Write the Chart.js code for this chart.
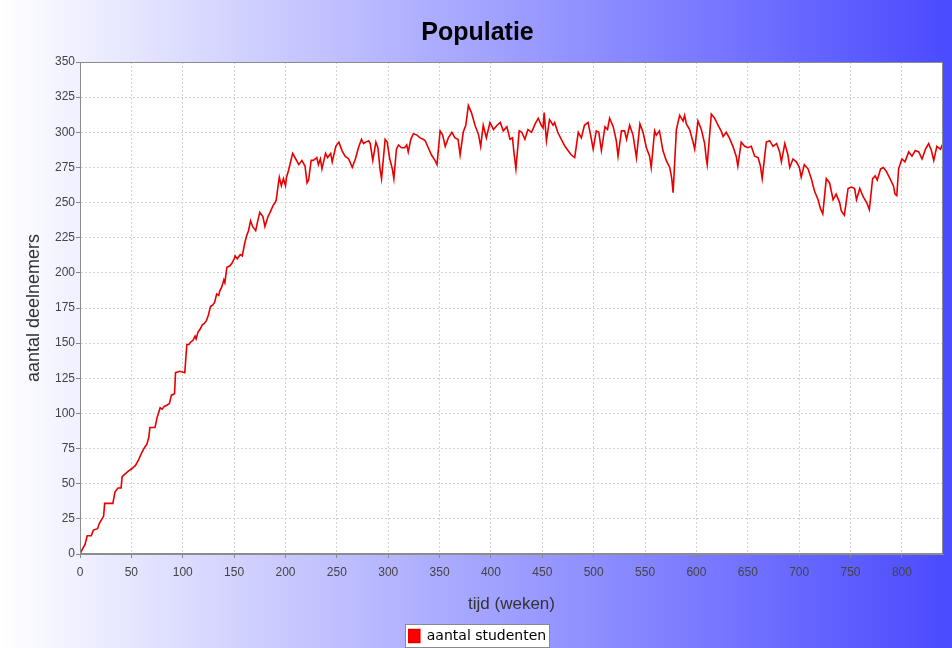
<!DOCTYPE html>
<html><head><meta charset="utf-8">
<script src="https://cdn.jsdelivr.net/npm/chart.js@4/dist/chart.umd.min.js"></script>
<style>html,body{margin:0;padding:0;background:#fff;overflow:hidden}</style>
</head><body>
<canvas id="c" width="952" height="648"></canvas>
<script>
// ---- data ----
const chartTitle = 'Populatie';
const xAxisTitle = 'tijd (weken)';
const yAxisTitle = 'aantal deelnemers';
const seriesName = 'aantal studenten';

const weeks = [
 0,2,5,7,11,13,17,19,23,24,32,34,37,40,41,44,47,51,54,57,60,63,65,67,68,73,75,78,80,82,85,87,89,92,93,97,102,104,106,108,110,112,113,115,117,119,121,123,125,127,129,131,133,135,136,138,140,141,143,
 146,148,150,151,153,156,158,160,162,164,166,168,171,173,175,178,180,183,185,188,190,191,193,194,196,198,200,201,203,205,207,210,213,
 216,219,221,222.5,225,227,229,230.5,232,234,235.5,239,241,244,245.5,249,252,255,258,261.5,265,268,271,274,276,278,281,
 282.5,285,288,290,292,293.5,297,299,301.5,304,305.5,308,310,313,316,318,319.5,322,324.5,328,331,334,336,339,342,345.5,347.5,350.5,353,355.5,358.5,362,365,368,370,373,375.5,378,381,384.5,388,390,392.5,395.5,399,402.5,406,409,412,415.5,418.5,421,422.3,424.3,427.5,430,433,436,439.5,443,446,449,450.7,451.8,454,457,
 460.5,462,465,468.5,472,475,478,481.5,485,488,491,494.5,497,499.5,502.5,505,507.5,511,513.5,515.5,519,522,523.7,527,530,532,535,538.3,541.6,545,548,551.3,554.4,556,559.3,561,564,567.4,570.6,574,576,577.3,580.5,583.7,587,588.5,590.2,593.4,596.7,598.3,601.5,604.8,608,609.6,610.5,614.5,617.7,621,624,626,629,
 632,635.5,638.7,640.3,643.6,647,650,653.4,656.7,660,662.3,664,668,671.3,674.5,678,681,682.7,686,689,690.8,694,697.3,700.2,702,705,708.6,711.8,715,718.4,720.6,723,726.4,729.6,733,736,739.4,741,744,747.6,750.8,754,755.8,759,762.4,765.7,768.3,771.5,774,776,779.3,782,785,788.4,791.7,793.3,795,796.8,800,803,806.6,809.8,813,816.4,819.6,823,826,828.7,831,834,837.5,840
];
const students = [
 0,3,7,13,13,17,18,22,27,36,36,44,47,47,55,57,59,61,63,67,72,76,78,83,90,90,97,104,103,105,106,107,113,114,129,130,129,149,149,151,152,155,153,158,160,163,164,166,170,176,177,179,185,184,187,190,195,193,204,
 205,207,210,212,210,213,212,220,226,230,237,233,230,237,243,240,233,240,243,248,250,252,263,268,262,267,262,268,273,279,285,281,277,280,
 276,264,266,280,280,281,282,277,281,274,285,282,285,279,290,293,287,283,281,275,281,289,295,292,293,294,292,
 280,293,289,274,267,295,293,281,274,267,288,291,289,289,291,286,295,299,298,296,295,294,289,284,280,277,301,298,290,296,300,296,295,284,300,305,319,314,305,298,290,305,296,307,302,305,307,301,304,295,296,286,274,301,300,295,302,300,306,310,305,303,314,294,309,305,
 307,300,295,290,287,284,282,300,296,305,307,298,288,301,300,287,304,302,310,304,294,283,301,301,295,305,298,282,306,300,289,283,275,301,298,301,287,280,275,267,257,302,312,308,312,306,302,293,288,308,302,292,281,277,313,310,305,301,297,300,296,
 290,283,276,293,290,289,290,283,282,276,267,293,294,290,292,286,279,292,284,275,281,279,275,268,277,274,267,258,252,246,242,267,264,252,256,250,244,241,260,261,260,252,260,254,250,245,267,269,266,274,275,272,267,262,256,255,274,281,279,286,283,287,286,281,288,292,287,280,290,288,292,294
];

const xMin = 0, xMax = 840, xStep = 50;
const yMin = 0, yMax = 350, yStep = 25;

// ---- plugins ----
const backdrop = {
  id: 'backdrop',
  beforeDraw(chart) {
    const {ctx, width, height, chartArea: a} = chart;
    ctx.save();
    const g = ctx.createLinearGradient(0, 0, width, 0);
    g.addColorStop(0, '#ffffff');
    g.addColorStop(1, '#4a4aff');
    ctx.fillStyle = g;
    ctx.fillRect(0, 0, width, height);
    ctx.fillStyle = '#ffffff';
    ctx.fillRect(a.left, a.top, a.right - a.left, a.bottom - a.top);
    const hb = chart.legend && chart.legend.legendHitBoxes && chart.legend.legendHitBoxes[0];
    if (hb) {
      const x = Math.round(hb.left - 4) + 0.5, y = Math.round(hb.top - 5) + 0.5;
      const w = Math.round(hb.width + 7), h = Math.round(hb.height + 9);
      ctx.fillStyle = '#ffffff';
      ctx.fillRect(x, y, w, h);
      ctx.strokeStyle = '#8a8a8a';
      ctx.lineWidth = 1;
      ctx.strokeRect(x, y, w, h);
    }
    ctx.restore();
  },
  afterDatasetsDraw(chart) {
    const {ctx, chartArea: a} = chart;
    ctx.save();
    ctx.strokeStyle = '#8c8c8c';
    ctx.lineWidth = 1;
    ctx.strokeRect(Math.round(a.left) + 0.5, Math.round(a.top) + 0.5, Math.round(a.right - a.left) - 1, Math.round(a.bottom - a.top) - 1);
    ctx.restore();
  }
};

const fontMain = 'Liberation Sans, Arial, sans-serif';

new Chart(document.getElementById('c'), {
  type: 'line',
  data: {
    datasets: [{
      label: seriesName,
      data: weeks.map((w, i) => ({x: w, y: students[i]})),
      borderColor: '#e80000',
      backgroundColor: '#ff0000',
      borderWidth: 1.6,
      pointRadius: 0,
      tension: 0,
      yAxisID: 'y'
    }]
  },
  options: {
    responsive: false,
    animation: false,
    devicePixelRatio: 1,
    layout: {padding: {left: 6, right: 3, top: 0, bottom: -5}},
    plugins: {
      title: {
        display: true, text: chartTitle, color: '#000',
        font: {family: fontMain, size: 25, weight: 'bold'},
        padding: {top: 18, bottom: 14}
      },
      legend: {
        display: true, position: 'bottom',
        labels: {
          color: '#000', boxWidth: 11, boxHeight: 13, padding: 2.5,
          font: {family: 'DejaVu Sans, sans-serif', size: 14}
        }
      },
      tooltip: {enabled: false}
    },
    scales: {
      x: {
        type: 'linear', min: xMin, max: xMax,
        afterFit(s) { s.height = 72.5; },
        ticks: {stepSize: xStep, includeBounds: false, color: '#444', padding: 7,
                font: {family: fontMain, size: 12}, maxRotation: 0},
        grid: {color: '#d2d2d2', tickLength: 4, tickColor: '#888', tickBorderDash: []},
        border: {display: true, color: '#8c8c8c', dash: [2, 2]},
        title: {display: true, text: xAxisTitle, color: '#333',
                font: {family: fontMain, size: 17}, padding: {top: 4, bottom: 12}}
      },
      y: {
        type: 'linear', position: 'left', min: yMin, max: yMax,
        afterFit(s) { s.width = 74; },
        ticks: {stepSize: yStep, color: '#444', padding: 1, font: {family: fontMain, size: 12}},
        grid: {color: '#d2d2d2', tickLength: 4, tickColor: '#888', tickBorderDash: []},
        border: {display: true, color: '#8c8c8c', dash: [2, 2]},
        title: {display: true, text: yAxisTitle, color: '#333',
                font: {family: fontMain, size: 18}, padding: {top: 17, bottom: 0}}
      },
      yRight: {
        type: 'linear', position: 'right', display: true,
        afterFit(s) { s.width = 6; },
        ticks: {display: false}, grid: {display: false}, border: {display: false}
      }
    }
  },
  plugins: [backdrop]
});
</script>
</body></html>
